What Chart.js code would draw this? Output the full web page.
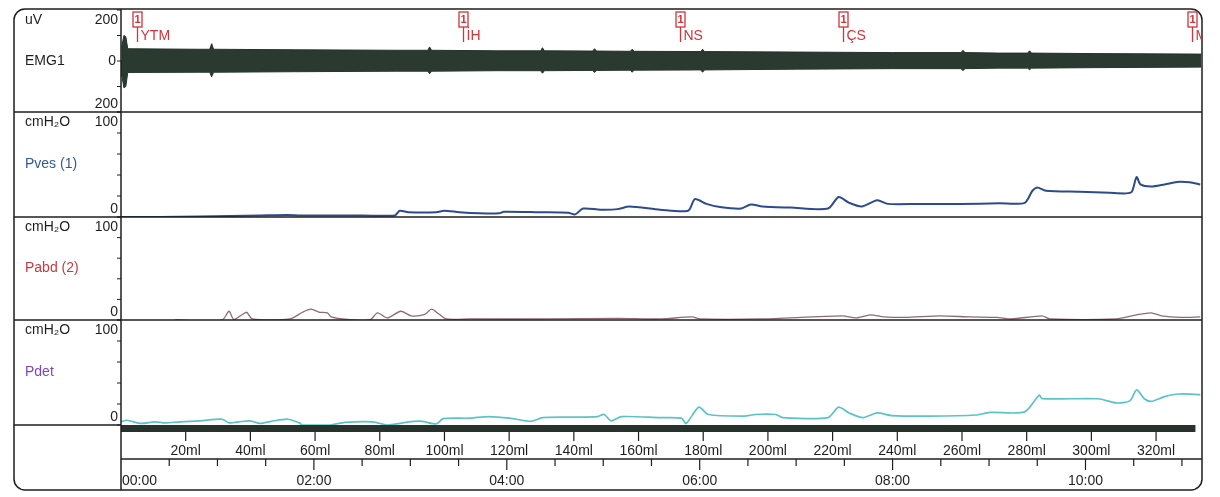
<!DOCTYPE html>
<html>
<head>
<meta charset="utf-8">
<script src="https://cdn.jsdelivr.net/npm/chart.js@4.4.1/dist/chart.umd.min.js"></script>
<style>
  html, body { margin: 0; padding: 0; background: #fff; }
</style>
</head>
<body>
<canvas id="uroChart" width="1220" height="497"></canvas>
<script>
// EMG envelope (uV) - upper and lower edge of the noise band, time in minutes
const emgTime = [0.00, 0.01, 0.03, 0.05, 0.07, 0.80, 0.92, 0.94, 0.96, 1.80, 2.85, 3.18, 3.20, 3.22, 3.90, 4.35, 4.37, 4.39, 4.89, 4.91, 4.93, 5.28, 5.30, 5.32, 6.01, 6.03, 6.05, 7.00, 8.00, 8.71, 8.73, 8.75, 9.10, 9.40, 9.42, 9.44, 10.10, 11.20];
const emgHigh = [0, 60, 100, 95, 48, 46, 46, 68, 46, 44, 42, 42, 55, 42, 40, 40, 52, 40, 39, 48, 39, 38, 46, 38, 37, 46, 37, 35, 33, 33, 42, 33, 31, 31, 40, 31, 29, 27];
const emgLow = [0, -60, -105, -100, -45, -44, -44, -62, -44, -42, -40, -40, -50, -40, -38, -38, -48, -38, -37, -45, -37, -36, -44, -36, -35, -44, -35, -32, -30, -30, -38, -30, -28, -28, -34, -28, -26, -24];

// Pves (cmH2O)
const pvesTime = [0.00, 0.40, 0.82, 1.13, 1.44, 1.73, 1.86, 2.37, 2.84, 2.89, 2.98, 3.27, 3.35, 3.51, 3.72, 3.92, 3.97, 4.34, 4.64, 4.71, 4.79, 4.97, 5.15, 5.27, 5.59, 5.88, 5.95, 6.07, 6.21, 6.43, 6.53, 6.65, 6.94, 7.33, 7.44, 7.55, 7.68, 7.84, 7.95, 8.28, 8.70, 9.11, 9.37, 9.45, 9.50, 9.59, 9.94, 10.25, 10.42, 10.48, 10.53, 10.57, 10.68, 10.82, 10.97, 11.08, 11.19];
const pves = [0, 0, 0.5, 1, 1.5, 2, 1.5, 1.5, 1.5, 6, 4.5, 4.5, 6, 4.5, 3.5, 3.5, 5, 4.5, 4, 2.5, 8, 7, 7.5, 10, 7, 6, 17, 12.5, 9.5, 8, 12, 10, 9, 8, 19, 13.5, 10, 16, 12.5, 12.5, 12.5, 13, 13.5, 25, 28, 25, 24, 23, 22.5, 24, 38, 31, 29, 31, 33.5, 33, 31];

// Pabd (cmH2O)
const pabdTime = [0.00, 0.06, 0.21, 0.40, 0.54, 0.57, 0.82, 1.05, 1.12, 1.17, 1.30, 1.36, 1.75, 1.88, 1.97, 2.06, 2.14, 2.18, 2.35, 2.58, 2.66, 2.76, 2.90, 3.01, 3.15, 3.22, 3.30, 3.37, 3.62, 4.45, 5.17, 5.59, 5.92, 6.00, 6.63, 7.48, 7.62, 7.77, 7.91, 8.13, 8.49, 8.80, 9.08, 9.23, 9.55, 9.63, 10.32, 10.53, 10.68, 10.79, 10.98, 11.19];
const pabd = [-1, -3, -3, -2, -2, 0, -1, 0, 8.5, 0.5, 7.5, 1, 1, 7.5, 10.5, 7.5, 7, 3, 0.5, 0, 7, 2, 8.5, 4, 5.5, 10.5, 5.5, 1, 1, 1, 1.5, 1, 3, 1, 1, 4, 2, 5, 3, 2.5, 4, 3, 2.5, 1, 4, 1, 1, 5, 7, 4, 2.5, 3];

// Pdet (cmH2O)
const pdetTime = [0.00, 0.06, 0.21, 0.35, 0.46, 0.61, 0.82, 1.05, 1.12, 1.22, 1.34, 1.44, 1.56, 1.73, 1.85, 1.88, 2.17, 2.32, 2.61, 2.76, 2.86, 2.98, 3.12, 3.27, 3.34, 3.62, 3.81, 4.03, 4.25, 4.37, 4.66, 4.94, 5.01, 5.08, 5.19, 5.59, 5.81, 5.86, 5.99, 6.09, 6.46, 6.58, 6.79, 6.86, 7.33, 7.44, 7.55, 7.69, 7.84, 7.99, 8.39, 8.86, 9.01, 9.37, 9.52, 9.55, 10.13, 10.32, 10.46, 10.53, 10.61, 10.68, 10.82, 10.97, 11.19];
const pdet = [3, 4.5, 1.5, 3, 2, 3, 4, 5.5, 2, 3, 4, 1.5, 3.5, 5.5, 2, 0, 0, 2.5, 3, 0, 1, 3, 3.5, 1, 6, 6.5, 8, 6.5, 3.5, 7, 7.5, 8, 10, 4, 8, 7, 6.5, 1.5, 17, 10, 8.5, 10, 10, 7, 7, 17, 11.5, 7, 11.5, 9, 8.5, 9.5, 12, 12.5, 28.5, 25, 25, 21, 23, 33.5, 25, 22.5, 27, 29.5, 29];

// event markers (minutes)
const markerTime = [0.17, 3.55, 5.80, 7.49, 11.10];
const markerLabels = ['YTM', 'İH', 'NS', 'ÇS', 'M'];

// bottom axes
const volumeTicks = [20, 40, 60, 80, 100, 120, 140, 160, 180, 200, 220, 240, 260, 280, 300, 320];
const timeTicks = [0.5, 1, 1.5, 2, 2.5, 3, 3.5, 4, 4.5, 5, 5.5, 6, 6.5, 7, 7.5, 8, 8.5, 9, 9.5, 10, 10.5, 11];
const timeTickLabels = ['00:00', '02:00', '04:00', '06:00', '08:00', '10:00'];
const infusedUntil = 11.14;

const INK = '#1e1e1e';
const FONT = "14px 'Liberation Sans', Arial, sans-serif";

const channels = [
  { id: 'yEmg', unit: 'uV', name: 'EMG1', color: INK, step: 100 },
  { id: 'yVes', unit: 'cmH₂O', name: 'Pves (1)', color: '#2f5a92', step: 20 },
  { id: 'yAbd', unit: 'cmH₂O', name: 'Pabd (2)', color: '#c9393e', step: 20 },
  { id: 'yDet', unit: 'cmH₂O', name: 'Pdet', color: '#7a44c6', step: 20 }
];

const pts = (ts, vs) => ts.map((t, i) => ({ x: t, y: vs[i] }));

function seg(ctx, x1, y1, x2, y2) {
  ctx.beginPath();
  ctx.moveTo(x1, y1);
  ctx.lineTo(x2, y2);
  ctx.stroke();
}

// frame, left column, bottom axes and markers
const frame = {
  id: 'frame',
  beforeDraw(chart) {
    const ctx = chart.ctx;
    ctx.save();
    ctx.fillStyle = '#fff';
    ctx.fillRect(0, 0, chart.width, chart.height);
    ctx.restore();
  },
  afterDraw(chart) {
    const { ctx, scales, chartArea } = chart;
    const L = chartArea.left, R = chartArea.right;
    const fL = 14, fT = 9, fB = 490;
    ctx.save();
    ctx.strokeStyle = INK;
    ctx.lineWidth = 1.5;

    // infused volume bar under the traces
    const det = scales.yDet;
    ctx.fillStyle = '#28322d';
    ctx.fillRect(L, det.bottom, scales.x.getPixelForValue(infusedUntil) - L, 7);

    ctx.beginPath();
    ctx.roundRect(fL, fT, R - fL, fB - fT, 11);
    ctx.stroke();
    seg(ctx, L, fT, L, fB);

    ctx.font = FONT;
    ctx.textBaseline = 'middle';
    channels.forEach((c, i) => {
      const s = scales[c.id];
      if (i < channels.length - 1) seg(ctx, fL, s.bottom, R, s.bottom);
      else seg(ctx, fL, s.bottom, L, s.bottom);
      ctx.lineWidth = 1;
      for (let v = s.min; v <= s.max; v += c.step) {
        const y = s.getPixelForValue(v);
        seg(ctx, L - 4, y, L, y);
      }
      ctx.lineWidth = 1.5;
      ctx.fillStyle = INK;
      ctx.textAlign = 'left';
      ctx.fillText(c.unit, 25, s.top + 10);
      ctx.textAlign = 'right';
      ctx.fillText(String(Math.abs(s.max)), L - 3, s.top + 10);
      ctx.fillText(String(Math.abs(s.min)), L - 3, s.bottom - 8);
      if (s.min < 0) ctx.fillText('0', L - 5, s.getPixelForValue(0));
      ctx.fillStyle = c.color;
      ctx.textAlign = 'left';
      ctx.fillText(c.name, 25, (s.top + s.bottom) / 2);
    });

    // volume axis
    const barBottom = det.bottom + 7;
    ctx.fillStyle = INK;
    ctx.textAlign = 'center';
    ctx.lineWidth = 1.2;
    volumeTicks.forEach(v => {
      const x = scales.xVol.getPixelForValue(v);
      seg(ctx, x, barBottom, x, barBottom + 9);
      ctx.fillText(v + 'ml', x, barBottom + 19);
    });

    // time axis
    const ty = 459;
    ctx.lineWidth = 1.5;
    seg(ctx, L, ty, R, ty);
    ctx.lineWidth = 1.2;
    timeTicks.forEach(t => {
      const x = scales.x.getPixelForValue(t);
      seg(ctx, x, ty, x, ty + (t % 2 === 0 ? 11 : 7));
    });
    timeTickLabels.forEach(lbl => {
      const m = parseInt(lbl.split(':')[0], 10);
      const x = scales.x.getPixelForValue(m);
      ctx.textAlign = m === 0 ? 'left' : 'center';
      ctx.fillText(lbl, m === 0 ? x + 1 : x, 481);
    });

    // event markers
    ctx.beginPath();
    ctx.rect(L, fT, R - L, 60);
    ctx.clip();
    ctx.strokeStyle = '#d1343a';
    ctx.fillStyle = '#d1343a';
    ctx.lineWidth = 1.3;
    markerTime.forEach((t, i) => {
      const x = Math.round(scales.x.getPixelForValue(t)) + 0.5;
      ctx.strokeRect(x - 4.5, 12, 9, 15);
      ctx.font = "bold 11px 'Liberation Sans', Arial, sans-serif";
      ctx.textAlign = 'center';
      ctx.fillText('1', x, 20);
      seg(ctx, x, 27, x, 42);
      ctx.font = FONT;
      ctx.textAlign = 'left';
      ctx.fillText(markerLabels[i], x + 3, 36);
    });
    ctx.restore();
  }
};

new Chart(document.getElementById('uroChart'), {
  type: 'line',
  data: {
    datasets: [
      { label: 'EMG1', data: pts(emgTime, emgHigh), yAxisID: 'yEmg', xAxisID: 'x',
        borderColor: '#24332b', backgroundColor: '#2a3a31', borderWidth: 1, fill: '+1', tension: 0 },
      { label: 'EMG1 low', data: pts(emgTime, emgLow), yAxisID: 'yEmg', xAxisID: 'x',
        borderColor: '#24332b', borderWidth: 1, fill: false, tension: 0 },
      { label: 'Pves (1)', data: pts(pvesTime, pves), yAxisID: 'yVes', xAxisID: 'x',
        borderColor: '#2c4a8e', borderWidth: 2 },
      { label: 'Pabd (2)', data: pts(pabdTime, pabd), yAxisID: 'yAbd', xAxisID: 'x',
        borderColor: '#8e6a75', borderWidth: 1.3 },
      { label: 'Pdet', data: pts(pdetTime, pdet), yAxisID: 'yDet', xAxisID: 'x',
        borderColor: '#5cc3c4', borderWidth: 1.7 }
    ]
  },
  options: {
    responsive: false,
    animation: false,
    devicePixelRatio: 1,
    layout: { padding: { left: 121, right: 18, top: 10, bottom: 72 } },
    elements: { point: { radius: 0 }, line: { tension: 0.25 } },
    plugins: { legend: { display: false }, tooltip: { enabled: false } },
    scales: {
      x: { type: 'linear', min: 0, max: 11.208, display: false },
      xVol: { type: 'linear', axis: 'x', position: 'bottom', min: 0, max: 334.2, display: false },
      yEmg: { type: 'linear', position: 'left', stack: 'panels', stackWeight: 102, weight: 4, min: -200, max: 200, display: false },
      yVes: { type: 'linear', position: 'left', stack: 'panels', stackWeight: 105, weight: 3, min: 0, max: 100, display: false },
      yAbd: { type: 'linear', position: 'left', stack: 'panels', stackWeight: 103, weight: 2, min: 0, max: 100, display: false },
      yDet: { type: 'linear', position: 'left', stack: 'panels', stackWeight: 105, weight: 1, min: 0, max: 100, display: false }
    }
  },
  plugins: [frame]
});
</script>
</body>
</html>
